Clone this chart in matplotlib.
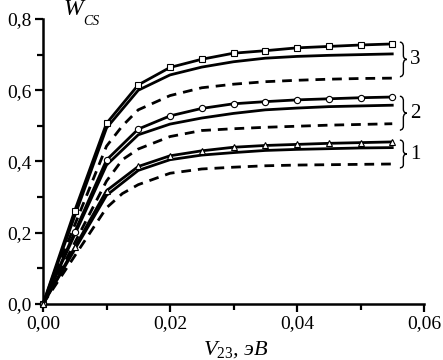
import matplotlib
matplotlib.use("Agg")
import matplotlib.pyplot as plt
from matplotlib.path import Path
from matplotlib.patches import PathPatch
from matplotlib.ticker import MultipleLocator, FuncFormatter

plt.rcParams['font.family'] = ['Liberation Serif', 'DejaVu Serif']
plt.rcParams['mathtext.fontset'] = 'custom'
plt.rcParams['mathtext.it'] = 'Liberation Serif:italic'
plt.rcParams['mathtext.rm'] = 'Liberation Serif'

# ---- data ----
x_m = [0, 0.005, 0.01, 0.015, 0.02, 0.025, 0.03, 0.035, 0.04, 0.045, 0.05, 0.055]
x_d = [0, 0.005, 0.01, 0.0125, 0.015, 0.02, 0.025, 0.03, 0.035, 0.04, 0.045, 0.05, 0.055]

w3_markers = [0, 0.262, 0.507, 0.615, 0.664, 0.687, 0.704, 0.711, 0.719, 0.723, 0.727, 0.730]
w3_solid = [0, 0.247, 0.494, 0.600, 0.643, 0.665, 0.680, 0.690, 0.695, 0.698, 0.700, 0.702]
w3_dash = [0, 0.222, 0.443, 0.500, 0.545, 0.585, 0.607, 0.617, 0.624, 0.628, 0.631, 0.633, 0.634]

w2_markers = [0, 0.202, 0.404, 0.491, 0.528, 0.549, 0.562, 0.568, 0.573, 0.576, 0.579, 0.581]
w2_solid = [0, 0.195, 0.390, 0.475, 0.505, 0.522, 0.535, 0.545, 0.550, 0.554, 0.556, 0.558]
w2_dash = [0, 0.172, 0.345, 0.405, 0.435, 0.470, 0.487, 0.492, 0.496, 0.499, 0.502, 0.504, 0.506]

w1_markers = [0, 0.159, 0.318, 0.386, 0.416, 0.430, 0.440, 0.445, 0.448, 0.451, 0.453, 0.455]
w1_solid = [0, 0.153, 0.305, 0.375, 0.405, 0.418, 0.425, 0.431, 0.434, 0.436, 0.438, 0.439]
w1_dash = [0, 0.135, 0.270, 0.310, 0.335, 0.367, 0.379, 0.384, 0.388, 0.390, 0.391, 0.392, 0.393]

group_labels = ['3', '2', '1']
brace_ranges = [(0.638, 0.735), (0.488, 0.583), (0.382, 0.460)]

# ---- figure ----
fig = plt.figure(figsize=(4.43, 3.6), dpi=100)
ax = fig.add_axes([43/443, 56/360, 381/443, 285/360])

lw = 2.0
dash = (3.5, 2.5)
for xs, ys, mk, ms in [(x_m, w3_markers, 's', 4.2), (x_m, w2_markers, 'o', 4.5), (x_m, w1_markers, '^', 4.5)]:
    ax.plot(xs, ys, color='black', lw=lw, marker=mk, ms=ms, mfc='white',
            mec='black', mew=0.8, clip_on=False, zorder=4)
for ys in [w3_solid, w2_solid, w1_solid]:
    ax.plot(x_m, ys, color='black', lw=lw, clip_on=False, zorder=3)
for ys in [w3_dash, w2_dash, w1_dash]:
    ax.plot(x_d, ys, color='black', lw=lw, dashes=dash, clip_on=False, zorder=3)

def brace(ax, y0, y1, x0=0.0562, x1=0.0573):
    xm = (x0 + x1) / 2
    ym = (y0 + y1) / 2
    d = (y1 - y0) * 0.12
    verts = [(x0, y1), (xm, y1), (xm, y1 - d), (xm, y1 - d),
             (xm, ym + d),
             (xm, ym), (x1, ym), (x1, ym),
             (xm, ym), (xm, ym - d), (xm, ym - d),
             (xm, y0 + d),
             (xm, y0), (x0, y0), (x0, y0)]
    codes = [Path.MOVETO, Path.CURVE4, Path.CURVE4, Path.CURVE4,
             Path.LINETO,
             Path.CURVE4, Path.CURVE4, Path.CURVE4,
             Path.CURVE4, Path.CURVE4, Path.CURVE4,
             Path.LINETO,
             Path.CURVE4, Path.CURVE4, Path.CURVE4]
    p = PathPatch(Path(verts, codes), fill=False, lw=1.0, color='black', clip_on=False)
    ax.add_patch(p)

for lab, (y0, y1) in zip(group_labels, brace_ranges):
    brace(ax, y0, y1)
    ax.text(0.0578, (y0 + y1) / 2, lab, fontsize=15, ha='left', va='center', clip_on=False)

ax.set_xlim(0, 0.06)
ax.set_ylim(0, 0.8)
for s in ['top', 'right']:
    ax.spines[s].set_visible(False)
for s in ['left', 'bottom']:
    ax.spines[s].set_linewidth(1.8)

ax.xaxis.set_major_locator(MultipleLocator(0.02))
ax.xaxis.set_minor_locator(MultipleLocator(0.01))
ax.yaxis.set_major_locator(MultipleLocator(0.2))
ax.yaxis.set_minor_locator(MultipleLocator(0.1))
ax.xaxis.set_major_formatter(FuncFormatter(lambda v, p: f"{v:.2f}".replace('.', ',')))
ax.yaxis.set_major_formatter(FuncFormatter(lambda v, p: f"{v:.1f}".replace('.', ',')))
ax.tick_params(which='major', direction='out', length=6, width=1.6, labelsize=14, pad=2)
ax.tick_params(which='minor', direction='out', length=4, width=1.6)

fig.text(63/443, 1 - 15/360, "W", fontsize=17, style='italic', ha='left', va='baseline')
fig.text(83/443, 1 - 25/360, "CS", fontsize=10, style='italic', ha='left', va='baseline')

fig.text(203/443, 1 - 355/360, r"$V_{23}$, эВ", fontsize=16, style='italic', ha='left', va='baseline')

fig.savefig("out.png", dpi=100)
